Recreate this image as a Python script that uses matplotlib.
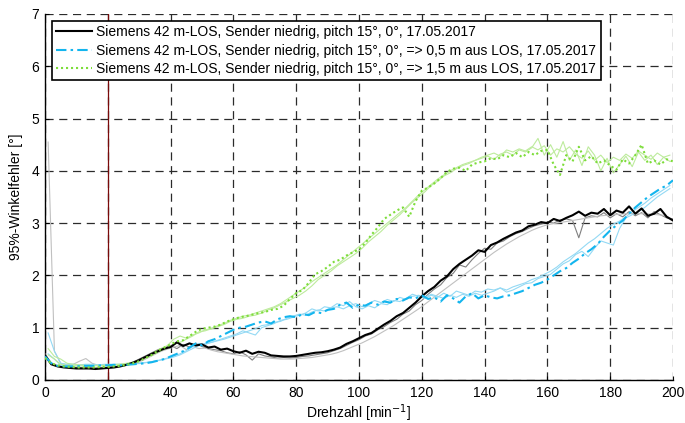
import numpy as np
import matplotlib
matplotlib.use("Agg")
import matplotlib.pyplot as plt

plt.rcParams['font.family'] = ['Liberation Sans', 'DejaVu Sans']

# x grids (rpm)
x_even = list(range(0, 201, 2))
x_odd = list(range(1, 200, 2))

black_bold = [0.47, 0.30, 0.26, 0.24, 0.23, 0.22, 0.22, 0.22, 0.21, 0.22,
              0.23, 0.24, 0.26, 0.29, 0.33, 0.38, 0.44, 0.50, 0.55, 0.60,
              0.63, 0.72, 0.65, 0.70, 0.66, 0.68, 0.62, 0.64, 0.58, 0.60,
              0.55, 0.52, 0.56, 0.50, 0.54, 0.52, 0.47, 0.46, 0.45, 0.45,
              0.46, 0.48, 0.50, 0.52, 0.53, 0.55, 0.58, 0.62, 0.69, 0.74,
              0.80, 0.86, 0.90, 0.98, 1.06, 1.13, 1.22, 1.28, 1.38, 1.48,
              1.60, 1.70, 1.78, 1.90, 1.98, 2.12, 2.22, 2.30, 2.38, 2.48,
              2.45, 2.58, 2.63, 2.70, 2.76, 2.82, 2.86, 2.94, 2.97, 3.02,
              3.00, 3.08, 3.04, 3.10, 3.15, 3.22, 3.14, 3.20, 3.18, 3.27,
              3.15, 3.24, 3.20, 3.32, 3.18, 3.28, 3.14, 3.18, 3.27, 3.12, 3.05]

gray_dark = [0.50, 0.32, 0.27, 0.25, 0.24, 0.24, 0.23, 0.23, 0.23, 0.23,
             0.24, 0.25, 0.27, 0.30, 0.34, 0.40, 0.46, 0.52, 0.58, 0.62,
             0.66, 0.60, 0.68, 0.63, 0.70, 0.64, 0.60, 0.58, 0.56, 0.52,
             0.50, 0.54, 0.48, 0.38, 0.50, 0.46, 0.44, 0.42, 0.43, 0.42,
             0.43, 0.45, 0.46, 0.48, 0.50, 0.52, 0.56, 0.60, 0.66, 0.72,
             0.77, 0.84, 0.88, 0.96, 1.02, 1.10, 1.16, 1.26, 1.32, 1.44,
             1.52, 1.64, 1.74, 1.82, 1.96, 2.04, 2.20, 2.16, 2.30, 2.42,
             2.52, 2.50, 2.62, 2.66, 2.74, 2.80, 2.84, 2.90, 2.95, 2.98,
             3.02, 3.00, 3.06, 3.08, 3.05, 2.72, 3.10, 3.14, 3.12, 3.20,
             3.10, 3.18, 3.12, 3.22, 3.14, 3.20, 3.10, 3.22, 3.16, 3.10, 3.08]

gray_light = [4.55, 0.55, 0.32, 0.29, 0.30, 0.36, 0.41, 0.32, 0.28, 0.27,
              0.26, 0.26, 0.27, 0.30, 0.33, 0.37, 0.43, 0.49, 0.55, 0.59,
              0.63, 0.66, 0.58, 0.64, 0.60, 0.61, 0.57, 0.54, 0.52, 0.50,
              0.48, 0.46, 0.45, 0.44, 0.43, 0.42, 0.41, 0.40, 0.40, 0.40,
              0.41, 0.42, 0.43, 0.45, 0.47, 0.49, 0.52, 0.56, 0.61, 0.66,
              0.71, 0.77, 0.83, 0.90, 0.97, 1.04, 1.12, 1.20, 1.28, 1.36,
              1.45, 1.54, 1.63, 1.72, 1.81, 1.90, 1.99, 2.08, 2.17, 2.26,
              2.35, 2.44, 2.52, 2.60, 2.67, 2.74, 2.80, 2.86, 2.91, 2.95,
              2.98, 3.00, 3.02, 3.04, 3.06, 3.08, 3.10, 3.12, 3.14, 3.15,
              3.16, 3.17, 3.18, 3.18, 3.18, 3.18, 3.17, 3.16, 3.15, 3.10]

cyan_bold = [0.45, 0.32, 0.27, 0.26, 0.26, 0.26, 0.27, 0.27, 0.27, 0.28,
             0.28, 0.29, 0.28, 0.29, 0.30, 0.31, 0.32, 0.34, 0.37, 0.40,
             0.45, 0.50, 0.55, 0.62, 0.70, 0.66, 0.74, 0.78, 0.84, 0.90,
             0.96, 1.00, 1.02, 1.06, 1.10, 1.12, 1.08, 1.16, 1.20, 1.22,
             1.20, 1.26, 1.24, 1.30, 1.28, 1.34, 1.36, 1.44, 1.48, 1.38,
             1.44, 1.42, 1.48, 1.44, 1.50, 1.48, 1.55, 1.52, 1.58, 1.56,
             1.62, 1.55, 1.58, 1.50, 1.62, 1.56, 1.48, 1.60, 1.66, 1.56,
             1.62, 1.58, 1.56, 1.60, 1.62, 1.66, 1.70, 1.76, 1.82, 1.86,
             1.92, 2.00, 2.08, 2.14, 2.24, 2.32, 2.42, 2.50, 2.60, 2.74,
             2.86, 2.96, 3.05, 3.18, 3.30, 3.40, 3.50, 3.58, 3.66, 3.72, 3.82]

cyan_thin1 = [0.90, 0.55, 0.32, 0.30, 0.30, 0.29, 0.30, 0.30, 0.29, 0.30,
              0.30, 0.30, 0.30, 0.31, 0.32, 0.33, 0.34, 0.36, 0.39, 0.42,
              0.46, 0.50, 0.56, 0.64, 0.70, 0.68, 0.72, 0.76, 0.80, 0.84,
              0.88, 0.94, 0.90, 0.86, 1.00, 1.04, 1.08, 1.14, 1.16, 1.20,
              1.24, 1.28, 1.36, 1.32, 1.40, 1.38, 1.46, 1.42, 1.50, 1.40,
              1.36, 1.42, 1.38, 1.46, 1.44, 1.52, 1.50, 1.56, 1.64, 1.60,
              1.56, 1.62, 1.58, 1.66, 1.60, 1.70, 1.66, 1.62, 1.70, 1.68,
              1.74, 1.72, 1.76, 1.68, 1.72, 1.78, 1.84, 1.86, 1.94, 1.98,
              2.02, 2.12, 2.22, 2.28, 2.40, 2.46, 2.36, 2.52, 2.66, 2.62,
              2.58, 2.90, 3.10, 3.16, 3.22, 3.30, 3.40, 3.50, 3.58, 3.66]

cyan_thin2 = [0.50, 0.40, 0.28, 0.27, 0.27, 0.27, 0.28, 0.28, 0.28, 0.28,
              0.29, 0.29, 0.30, 0.30, 0.31, 0.32, 0.34, 0.36, 0.38, 0.41,
              0.44, 0.48, 0.54, 0.60, 0.66, 0.70, 0.72, 0.75, 0.78, 0.82,
              0.86, 0.90, 0.94, 0.98, 1.04, 1.06, 1.10, 1.12, 1.18, 1.22,
              1.26, 1.24, 1.30, 1.34, 1.32, 1.38, 1.40, 1.36, 1.42, 1.46,
              1.40, 1.46, 1.52, 1.48, 1.54, 1.50, 1.58, 1.54, 1.60, 1.62,
              1.58, 1.64, 1.60, 1.56, 1.62, 1.58, 1.64, 1.60, 1.66, 1.62,
              1.66, 1.70, 1.76, 1.72, 1.78, 1.82, 1.86, 1.92, 1.96, 2.02,
              2.08, 2.16, 2.26, 2.34, 2.42, 2.52, 2.62, 2.70, 2.80, 2.90,
              2.98, 3.04, 3.12, 3.22, 3.30, 3.38, 3.48, 3.56, 3.64, 3.72]

green_bold = [0.42, 0.32, 0.28, 0.26, 0.25, 0.24, 0.24, 0.24, 0.24, 0.25,
              0.25, 0.26, 0.27, 0.29, 0.32, 0.36, 0.42, 0.48, 0.56, 0.62,
              0.68, 0.74, 0.76, 0.84, 0.92, 0.98, 1.00, 1.02, 1.06, 1.12,
              1.16, 1.20, 1.22, 1.25, 1.28, 1.30, 1.34, 1.36, 1.42, 1.55,
              1.66, 1.72, 1.86, 2.02, 2.08, 2.16, 2.26, 2.30, 2.38, 2.44,
              2.50, 2.62, 2.78, 2.92, 3.08, 3.16, 3.24, 3.30, 3.12, 3.42,
              3.62, 3.68, 3.76, 3.86, 3.98, 4.04, 4.06, 4.00, 4.12, 4.16,
              4.18, 4.24, 4.22, 4.30, 4.26, 4.34, 4.26, 4.36, 4.30, 4.38,
              4.40, 4.12, 3.92, 4.30, 4.18, 4.46, 4.20, 4.28, 4.14, 4.20,
              4.10, 4.02, 4.22, 4.14, 4.30, 4.50, 4.14, 4.20, 4.12, 4.22, 4.18]

green_thin1 = [0.48, 0.40, 0.30, 0.28, 0.27, 0.27, 0.27, 0.27, 0.27, 0.28,
               0.28, 0.29, 0.30, 0.32, 0.35, 0.40, 0.46, 0.54, 0.60, 0.66,
               0.78, 0.84, 0.80, 0.86, 0.90, 0.96, 0.98, 1.02, 1.06, 1.12,
               1.16, 1.18, 1.22, 1.24, 1.28, 1.34, 1.38, 1.44, 1.50, 1.56,
               1.62, 1.70, 1.80, 1.92, 2.00, 2.08, 2.18, 2.26, 2.34, 2.42,
               2.52, 2.64, 2.74, 2.84, 2.96, 3.06, 3.16, 3.28, 3.40, 3.50,
               3.60, 3.72, 3.80, 3.90, 3.96, 4.04, 4.10, 4.14, 4.20, 4.24,
               4.28, 4.22, 4.32, 4.36, 4.30, 4.40, 4.36, 4.44, 4.62, 4.30,
               4.50, 4.26, 4.56, 4.20, 4.40, 4.10, 4.46, 4.30, 4.00, 4.24,
               3.96, 4.12, 4.28, 4.08, 4.36, 4.20, 4.30, 4.12, 4.26, 4.18]

green_thin2 = [0.60, 0.45, 0.40, 0.32, 0.30, 0.29, 0.28, 0.28, 0.28, 0.28,
               0.29, 0.30, 0.31, 0.33, 0.36, 0.40, 0.44, 0.50, 0.56, 0.62,
               0.68, 0.72, 0.78, 0.84, 0.92, 0.94, 0.98, 1.04, 1.08, 1.14,
               1.18, 1.22, 1.24, 1.28, 1.32, 1.36, 1.40, 1.46, 1.54, 1.62,
               1.70, 1.78, 1.88, 1.96, 2.04, 2.12, 2.20, 2.30, 2.40, 2.50,
               2.60, 2.70, 2.80, 2.90, 3.00, 3.10, 3.20, 3.30, 3.42, 3.54,
               3.64, 3.74, 3.84, 3.92, 4.00, 4.06, 4.12, 4.16, 4.20, 4.26,
               4.30, 4.34, 4.28, 4.40, 4.36, 4.42, 4.38, 4.46, 4.40, 4.48,
               4.30, 4.42, 4.36, 4.46, 4.32, 4.24, 4.38, 4.20, 4.30, 4.16,
               4.26, 4.20, 4.32, 4.24, 4.38, 4.30, 4.22, 4.34, 4.26, 4.30]

labels = [
    "Siemens 42 m-LOS, Sender niedrig, pitch 15°, 0°, 17.05.2017",
    "Siemens 42 m-LOS, Sender niedrig, pitch 15°, 0°, => 0,5 m aus LOS, 17.05.2017",
    "Siemens 42 m-LOS, Sender niedrig, pitch 15°, 0°, => 1,5 m aus LOS, 17.05.2017",
]
x_ticks = [0, 20, 40, 60, 80, 100, 120, 140, 160, 180, 200]
y_ticks = [0, 1, 2, 3, 4, 5, 6, 7]

fig = plt.figure(figsize=(6.85, 4.23), dpi=100)
ax = fig.add_axes([0.0657, 0.1017, 0.9168, 0.8653])

CYAN = '#13b5ee'
CYAN_L = '#93d9f4'
GREEN = '#7ddd3a'
GREEN_L = '#bdeb9c'

# thin raw lines
ax.plot(x_even, gray_dark, color='#7f7f7f', lw=0.8, zorder=3)
ax.plot(x_odd, gray_light, color='#c0c0c0', lw=0.8, zorder=3)
ax.plot(x_odd, cyan_thin1, color=CYAN_L, lw=0.8, zorder=3)
ax.plot(x_odd, cyan_thin2, color=CYAN_L, lw=0.8, zorder=3)
ax.plot(x_odd, green_thin1, color=GREEN_L, lw=0.8, zorder=3)
ax.plot(x_odd, green_thin2, color=GREEN_L, lw=0.8, zorder=3)

# bold lines
l1, = ax.plot(x_even, black_bold, color='black', lw=1.5, zorder=5)
l2, = ax.plot(x_even, cyan_bold, color=CYAN, lw=1.5, dashes=(5, 2, 1.2, 2), zorder=5)
l3, = ax.plot(x_even, green_bold, color=GREEN, lw=1.5, dashes=(1, 1.4), zorder=5)

ax.axvline(20, color='#7a0a0a', lw=0.9, zorder=2)

ax.set_xlim(0, 200)
ax.set_ylim(0, 7)
ax.set_xticks(x_ticks)
ax.set_yticks(y_ticks)
ax.grid(True, color='#2b2b2b', lw=0.9, linestyle=(0, (6.5, 4.5)), zorder=1)
ax.set_axisbelow(True)
for s in ['top', 'right']:
    ax.spines[s].set_visible(False)
for s in ['left', 'bottom']:
    ax.spines[s].set_linewidth(1.0)
ax.tick_params(direction='in', length=3, labelsize=10, pad=4)

ax.set_xlabel("Drehzahl [min$^{-1}$]", fontsize=10, labelpad=2)
ax.set_ylabel("95%-Winkelfehler [°]", fontsize=10, labelpad=6)

leg = ax.legend([l1, l2, l3], labels, loc='upper left', bbox_to_anchor=(0.011, 0.981),
                borderaxespad=0, fontsize=10, handlelength=2.6, handletextpad=0.3,
                labelspacing=0.32, borderpad=0.3, fancybox=False, framealpha=1,
                edgecolor='black')
leg.get_frame().set_linewidth(1.2)

fig.savefig("out.png", dpi=100)
